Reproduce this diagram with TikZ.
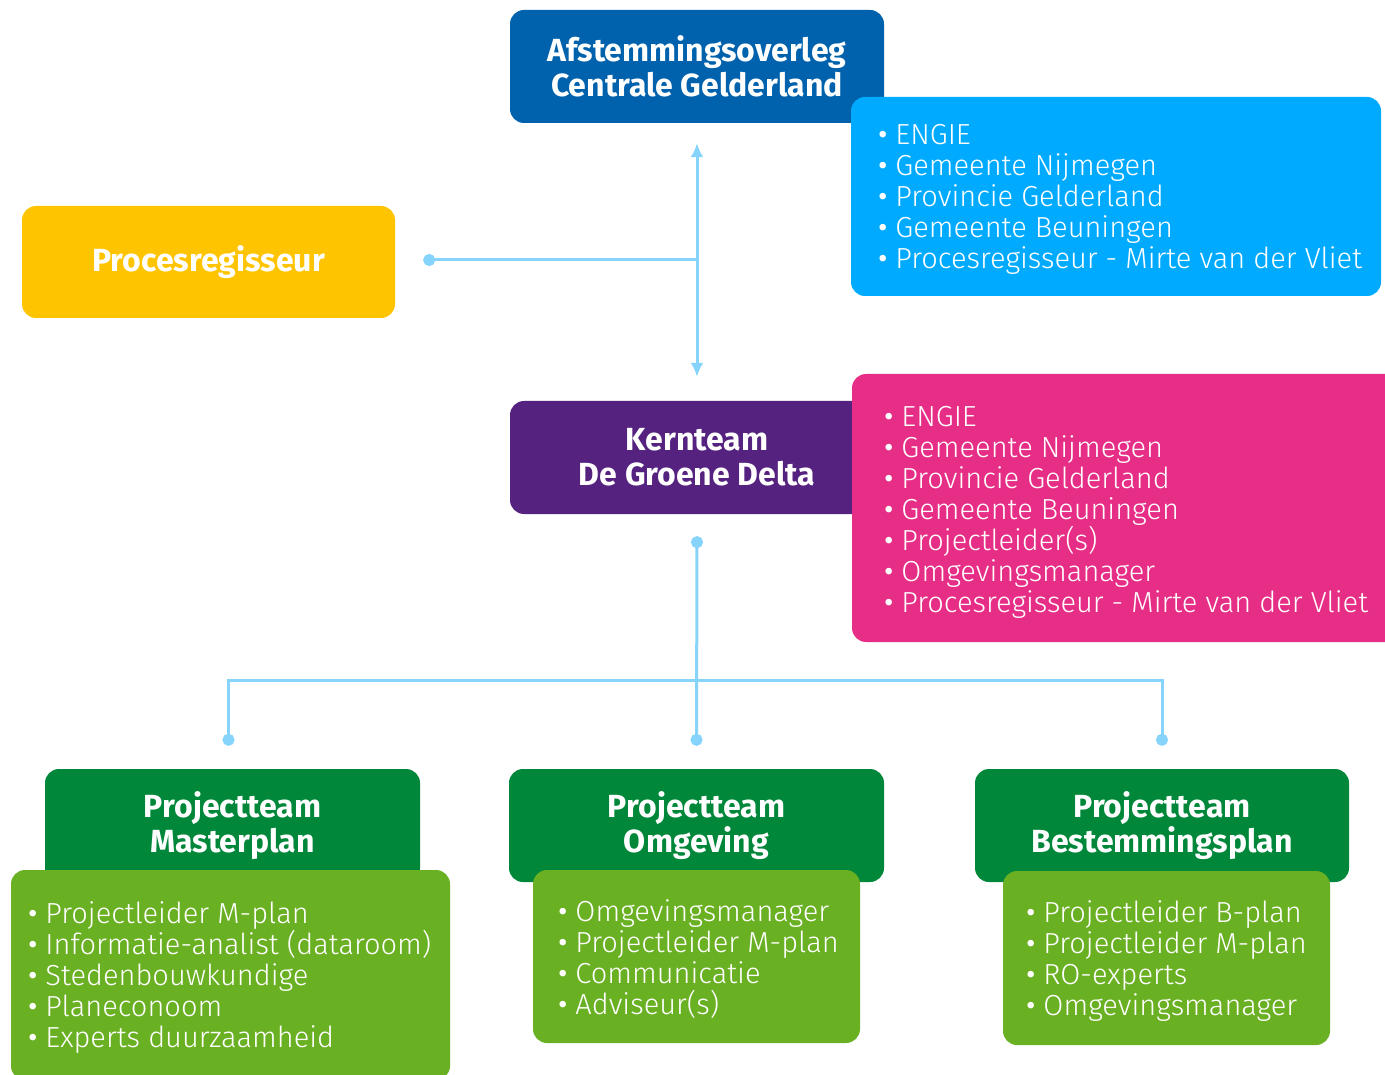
\documentclass[tikz,border=0pt]{standalone}
\usepackage{fontspec}
\setmainfont{Fira Sans}
\IfFontExistsTF{Fira Sans Light}{\newfontfamily\licht{Fira Sans Light}}{\newfontfamily\licht{Fira Sans}}
\usetikzlibrary{positioning,arrows.meta}
\definecolor{donkerblauw}{HTML}{0062AC}
\definecolor{lichtblauw}{HTML}{00AAFF}
\definecolor{geel}{HTML}{FFC400}
\definecolor{paars}{HTML}{55237F}
\definecolor{roze}{HTML}{E62E87}
\definecolor{donkergroen}{HTML}{00873A}
\definecolor{lichtgroen}{HTML}{6AB023}
\definecolor{lijnblauw}{HTML}{86D4FB}
\newcommand{\opsom}{{\rmfamily\textbullet}\ }

\begin{document}
\begin{tikzpicture}[x=1pt,y=-1pt,
  kop/.style={rounded corners=14pt,text=white,font=\fontsize{32}{35}\selectfont\bfseries,
    align=center,minimum width=374pt,minimum height=113pt,inner sep=0pt},
  lijstvak/.style={rounded corners=14pt,inner sep=0pt},
  lijst/.style={text=white,font=\licht\fontsize{29}{31}\selectfont,align=left,inner sep=0pt,anchor=west},
  lijn/.style={draw=lijnblauw,line width=3pt},
  bol/.tip={Circle[length=12pt]},
  pijlpunt/.tip={Latex[length=14pt,width=13pt]}]
\useasboundingbox (0,0) rectangle (1385,1075);

\node[kop,fill=donkerblauw] (afstem) at (697,66.5) {Afstemmingsoverleg\\Centrale Gelderland};
\node[lijstvak,fill=lichtblauw,minimum width=530pt,minimum height=199pt] (leden1) at (1116,196.5) {};
\node[lijst,right=27pt of leden1.west,yshift=-3pt] (tekst1) {\opsom ENGIE\\\opsom Gemeente Nijmegen\\
  \opsom Provincie Gelderland\\\opsom Gemeente Beuningen\\
  \opsom Procesregisseur - Mirte van der Vliet};

\node[kop,fill=geel,minimum width=373pt,minimum height=112pt] (proces) at (208.5,262) {Procesregisseur};

\node[kop,fill=paars] (kern) at (697,457.5) {Kernteam\\De Groene Delta};
\node[lijstvak,fill=roze,minimum width=548pt,minimum height=268pt] (leden2) at (1126,508) {};
\node[lijst,right=32pt of leden2.west,yshift=-4pt] (tekst2) {\opsom ENGIE\\\opsom Gemeente Nijmegen\\
  \opsom Provincie Gelderland\\\opsom Gemeente Beuningen\\
  \opsom Projectleider(s)\\\opsom Omgevingsmanager\\
  \opsom Procesregisseur - Mirte van der Vliet};

\node[kop,fill=donkergroen,minimum width=375pt] (master) at (232.5,825.5) {Projectteam\\Masterplan};
\node[kop,fill=donkergroen,minimum width=375pt] (omgev) at (696.5,825.5) {Projectteam\\Omgeving};
\node[kop,fill=donkergroen] (bestem) at (1162,825.5) {Projectteam\\Bestemmingsplan};

\node[lijstvak,fill=lichtgroen,minimum width=439pt,minimum height=210pt] (groep1) at (230.5,975) {};
\node[lijst,right=17pt of groep1.west,yshift=-3pt] (tekst3) {\opsom Projectleider M-plan\\
  \opsom Informatie-analist (dataroom)\\\opsom Stedenbouwkundige\\
  \opsom Planeconoom\\\opsom Experts duurzaamheid};
\node[lijstvak,fill=lichtgroen,minimum width=327pt,minimum height=173pt] (groep2) at (696.5,956.5) {};
\node[lijst,right=25pt of groep2.west,yshift=-3pt] (tekst4) {\opsom Omgevingsmanager\\
  \opsom Projectleider M-plan\\\opsom Communicatie\\\opsom Adviseur(s)};
\node[lijstvak,fill=lichtgroen,minimum width=327pt,minimum height=174pt] (groep3) at (1166.5,958) {};
\node[lijst,right=23pt of groep3.west,yshift=-3pt] (tekst5) {\opsom Projectleider B-plan\\
  \opsom Projectleider M-plan\\\opsom RO-experts\\\opsom Omgevingsmanager};

\draw[lijn,bol-] ([xshift=28pt,yshift=2pt]proces.east) -- (afstem.south |- 0,260);
\draw[lijn,pijlpunt-pijlpunt] ([yshift=-20pt]afstem.south) -- ([yshift=24pt]kern.north);
\coordinate[below=166pt of kern.south] (tak);
\draw[lijn,bol-bol] ([yshift=-22pt]kern.south) -- ([yshift=23pt]omgev.north);
\draw[lijn,bol-bol] ([xshift=-4pt,yshift=23pt]master.north) |- (tak) -| ([yshift=23pt]bestem.north);
\end{tikzpicture}
\end{document}
